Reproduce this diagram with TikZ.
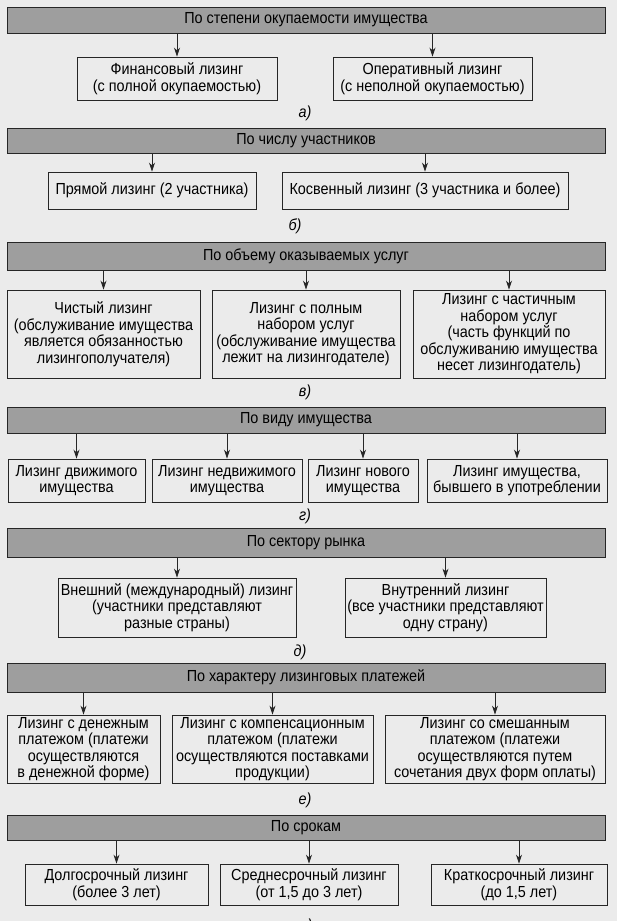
\documentclass[tikz,border=0pt]{standalone}
\usepackage{fontspec}
\setmainfont{Liberation Sans}[FakeStretch=0.9]
\usetikzlibrary{arrows.meta}

\begin{document}
\begin{tikzpicture}
    [x=1pt, y=-1pt,
    every node/.style={font=\fontsize{16}{16.5}\selectfont},
    head/.style={draw=black!85, fill=black!38, line width=0.9pt, minimum width=598pt, inner sep=0pt},
    item/.style={draw=black!85, line width=0.9pt, align=center, inner sep=0pt},
    caption/.style={font=\fontsize{16}{16.5}\selectfont\itshape},
    link/.style={-{Stealth[length=9pt,width=6pt]}, line width=0.8pt, black!85}]
        \fill[black!8] (0,0) rectangle (617,921);
        \useasboundingbox (0,0) rectangle (617,921);

        %% a) payback
        \node[head, minimum height=26pt] (H1) at (306,20) {По степени окупаемости имущества};
        \node[item, minimum width=200pt, minimum height=43pt] (A1) at (177,78.5) {Финансовый лизинг\\(с полной окупаемостью)};
        \node[item, minimum width=199pt, minimum height=43pt] (A2) at (432.5,78.5) {Оперативный лизинг\\(с неполной окупаемостью)};
        \node[caption] (capA) at (305,113) {а)};
        \draw[link] (H1.south -| A1.north) to (A1.north);
        \draw[link] (H1.south -| A2.north) to (A2.north);

        %% b) participants
        \node[head, minimum height=25pt] (H2) at (306,140.5) {По числу участников};
        \node[item, minimum width=208pt, minimum height=37pt] (B1) at (152,190.5) {Прямой лизинг (2 участника)};
        \node[item, minimum width=286pt, minimum height=37pt] (B2) at (425,190.5) {Косвенный лизинг (3 участника и более)};
        \node[caption] (capB) at (295,226) {б)};
        \draw[link] (H2.south -| B1.north) to (B1.north);
        \draw[link] (H2.south -| B2.north) to (B2.north);

        %% c) services
        \node[head, minimum height=28pt] (H3) at (306,256) {По объему оказываемых услуг};
        \node[item, minimum width=193pt, minimum height=88pt] (C1) at (103.5,334) {Чистый лизинг\\(обслуживание имущества\\является обязанностью\\лизингополучателя)};
        \node[item, minimum width=188pt, minimum height=88pt] (C2) at (306,334) {Лизинг с полным\\набором услуг\\(обслуживание имущества\\лежит на лизингодателе)};
        \node[item, minimum width=192pt, minimum height=88pt] (C3) at (509,334) {Лизинг с частичным\\набором услуг\\(часть функций по\\обслуживанию имущества\\несет лизингодатель)};
        \node[caption] (capC) at (305,392) {в)};
        \draw[link] (H3.south -| C1.north) to (C1.north);
        \draw[link] (H3.south -| C2.north) to (C2.north);
        \draw[link] (H3.south -| C3.north) to (C3.north);

        %% d) property
        \node[head, minimum height=26pt] (H4) at (306,420) {По виду имущества};
        \node[item, minimum width=137pt, minimum height=43pt] (D1) at (76.5,480.5) {Лизинг движимого\\имущества};
        \node[item, minimum width=150pt, minimum height=43pt] (D2) at (227,480.5) {Лизинг недвижимого\\имущества};
        \node[item, minimum width=110pt, minimum height=43pt] (D3) at (363,480.5) {Лизинг нового\\имущества};
        \node[item, minimum width=180pt, minimum height=43pt] (D4) at (517,480.5) {Лизинг имущества,\\бывшего в употреблении};
        \node[caption] (capD) at (305,516) {г)};
        \draw[link] (H4.south -| D1.north) to (D1.north);
        \draw[link] (H4.south -| D2.north) to (D2.north);
        \draw[link] (H4.south -| D3.north) to (D3.north);
        \draw[link] (H4.south -| D4.north) to (D4.north);

        %% e) market
        \node[head, minimum height=29pt] (H5) at (306,542.5) {По сектору рынка};
        \node[item, minimum width=238pt, minimum height=59pt] (E1) at (177,607.5) {Внешний (международный) лизинг\\(участники представляют\\разные страны)};
        \node[item, minimum width=201pt, minimum height=59pt] (E2) at (445.5,607.5) {Внутренний лизинг\\(все участники представляют\\одну страну)};
        \node[caption] (capE) at (300,652) {д)};
        \draw[link] (H5.south -| E1.north) to (E1.north);
        \draw[link] (H5.south -| E2.north) to (E2.north);

        %% f) payments
        \node[head, minimum height=29pt] (H6) at (306,677.5) {По характеру лизинговых платежей};
        \node[item, minimum width=153pt, minimum height=68pt] (F1) at (83.5,749) {Лизинг с денежным\\платежом (платежи\\осуществляются\\в денежной форме)};
        \node[item, minimum width=201pt, minimum height=68pt] (F2) at (272.5,749) {Лизинг с компенсационным\\платежом (платежи\\осуществляются поставками\\продукции)};
        \node[item, minimum width=220pt, minimum height=68pt] (F3) at (495,749) {Лизинг со смешанным\\платежом (платежи\\осуществляются путем\\сочетания двух форм оплаты)};
        \node[caption] (capF) at (305,800) {е)};
        \draw[link] (H6.south -| F1.north) to (F1.north);
        \draw[link] (H6.south -| F2.north) to (F2.north);
        \draw[link] (H6.south -| F3.north) to (F3.north);

        %% g) terms
        \node[head, minimum height=25pt] (H7) at (306,827.5) {По срокам};
        \node[item, minimum width=183pt, minimum height=41pt] (G1) at (116.5,884.5) {Долгосрочный лизинг\\(более 3 лет)};
        \node[item, minimum width=178pt, minimum height=41pt] (G2) at (309,884.5) {Среднесрочный лизинг\\(от 1,5 до 3 лет)};
        \node[item, minimum width=176pt, minimum height=41pt] (G3) at (519,884.5) {Краткосрочный лизинг\\(до 1,5 лет)};
        \node[caption] (capG) at (305,926) {ж)};
        \draw[link] (H7.south -| G1.north) to (G1.north);
        \draw[link] (H7.south -| G2.north) to (G2.north);
        \draw[link] (H7.south -| G3.north) to (G3.north);
    \end{tikzpicture}
\end{document}
